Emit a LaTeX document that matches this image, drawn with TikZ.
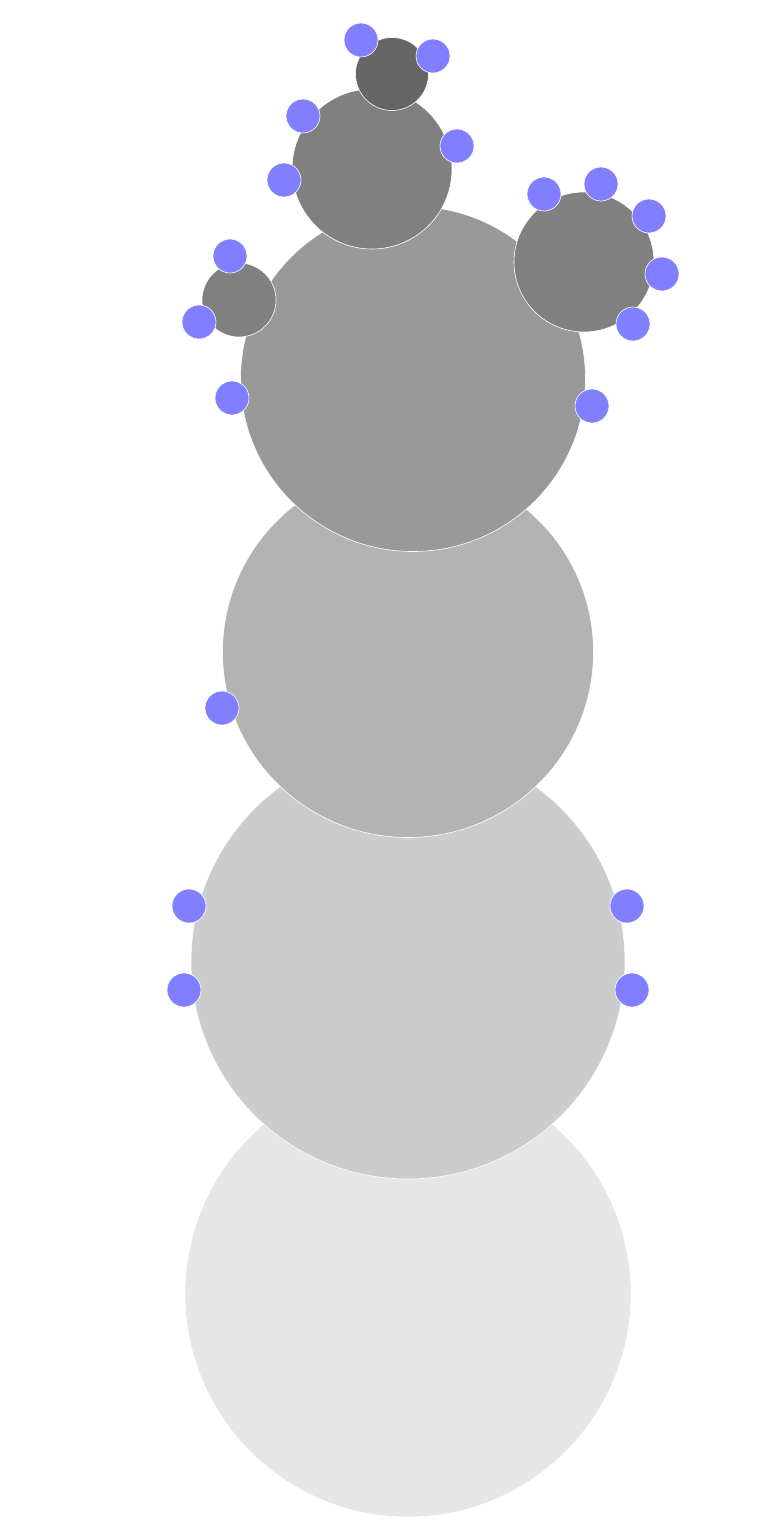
\documentclass[tikz,border=0pt]{standalone}
\begin{document}
\begin{tikzpicture}[x=1pt,y=-1pt,
  blob/.style={circle,draw=white,line width=0.6pt,inner sep=0pt},
  dot/.style={circle,draw=white,line width=0.6pt,inner sep=0pt,fill=blue!50!white,minimum size=34pt}]
\useasboundingbox (0,0) rectangle (764,1532);
\definecolor{ga}{HTML}{E6E6E6}
\definecolor{gb}{HTML}{CCCCCC}
\definecolor{gc}{HTML}{B3B3B3}
\definecolor{gd}{HTML}{999999}
\definecolor{ge}{HTML}{808080}
\definecolor{gf}{HTML}{666666}
\node[blob,fill=ga,minimum size=446pt] (c1) at (408,1294) {};
\node[blob,fill=gb,minimum size=434pt] (c2) at (408,962) {};
\node[blob,fill=gc,minimum size=371pt] (c3) at (408,652) {};
\node[blob,fill=gd,minimum size=345pt] (c4) at (413,379) {};
\node[blob,fill=ge,minimum size=74pt] (c5) at (239,300) {};
\node[blob,fill=ge,minimum size=140pt] (c6) at (584,262) {};
\node[blob,fill=ge,minimum size=160pt] (c7) at (372,169) {};
\node[blob,fill=gf,minimum size=73pt] (c8) at (392,74) {};
\node[dot] (d1) at (361,40) {};
\node[dot] (d2) at (433,56) {};
\node[dot] (d3) at (303,116) {};
\node[dot] (d4) at (284,180) {};
\node[dot] (d5) at (457,146) {};
\node[dot] (d6) at (544,194) {};
\node[dot] (d7) at (601,184) {};
\node[dot] (d8) at (649,216) {};
\node[dot] (d9) at (662,274) {};
\node[dot] (d10) at (633,324) {};
\node[dot] (d11) at (230,256) {};
\node[dot] (d12) at (199,322) {};
\node[dot] (d13) at (232,398) {};
\node[dot] (d14) at (592,406) {};
\node[dot] (d15) at (222,708) {};
\node[dot] (d16) at (189,906) {};
\node[dot] (d17) at (184,990) {};
\node[dot] (d18) at (627,906) {};
\node[dot] (d19) at (632,990) {};
\end{tikzpicture}
\end{document}
